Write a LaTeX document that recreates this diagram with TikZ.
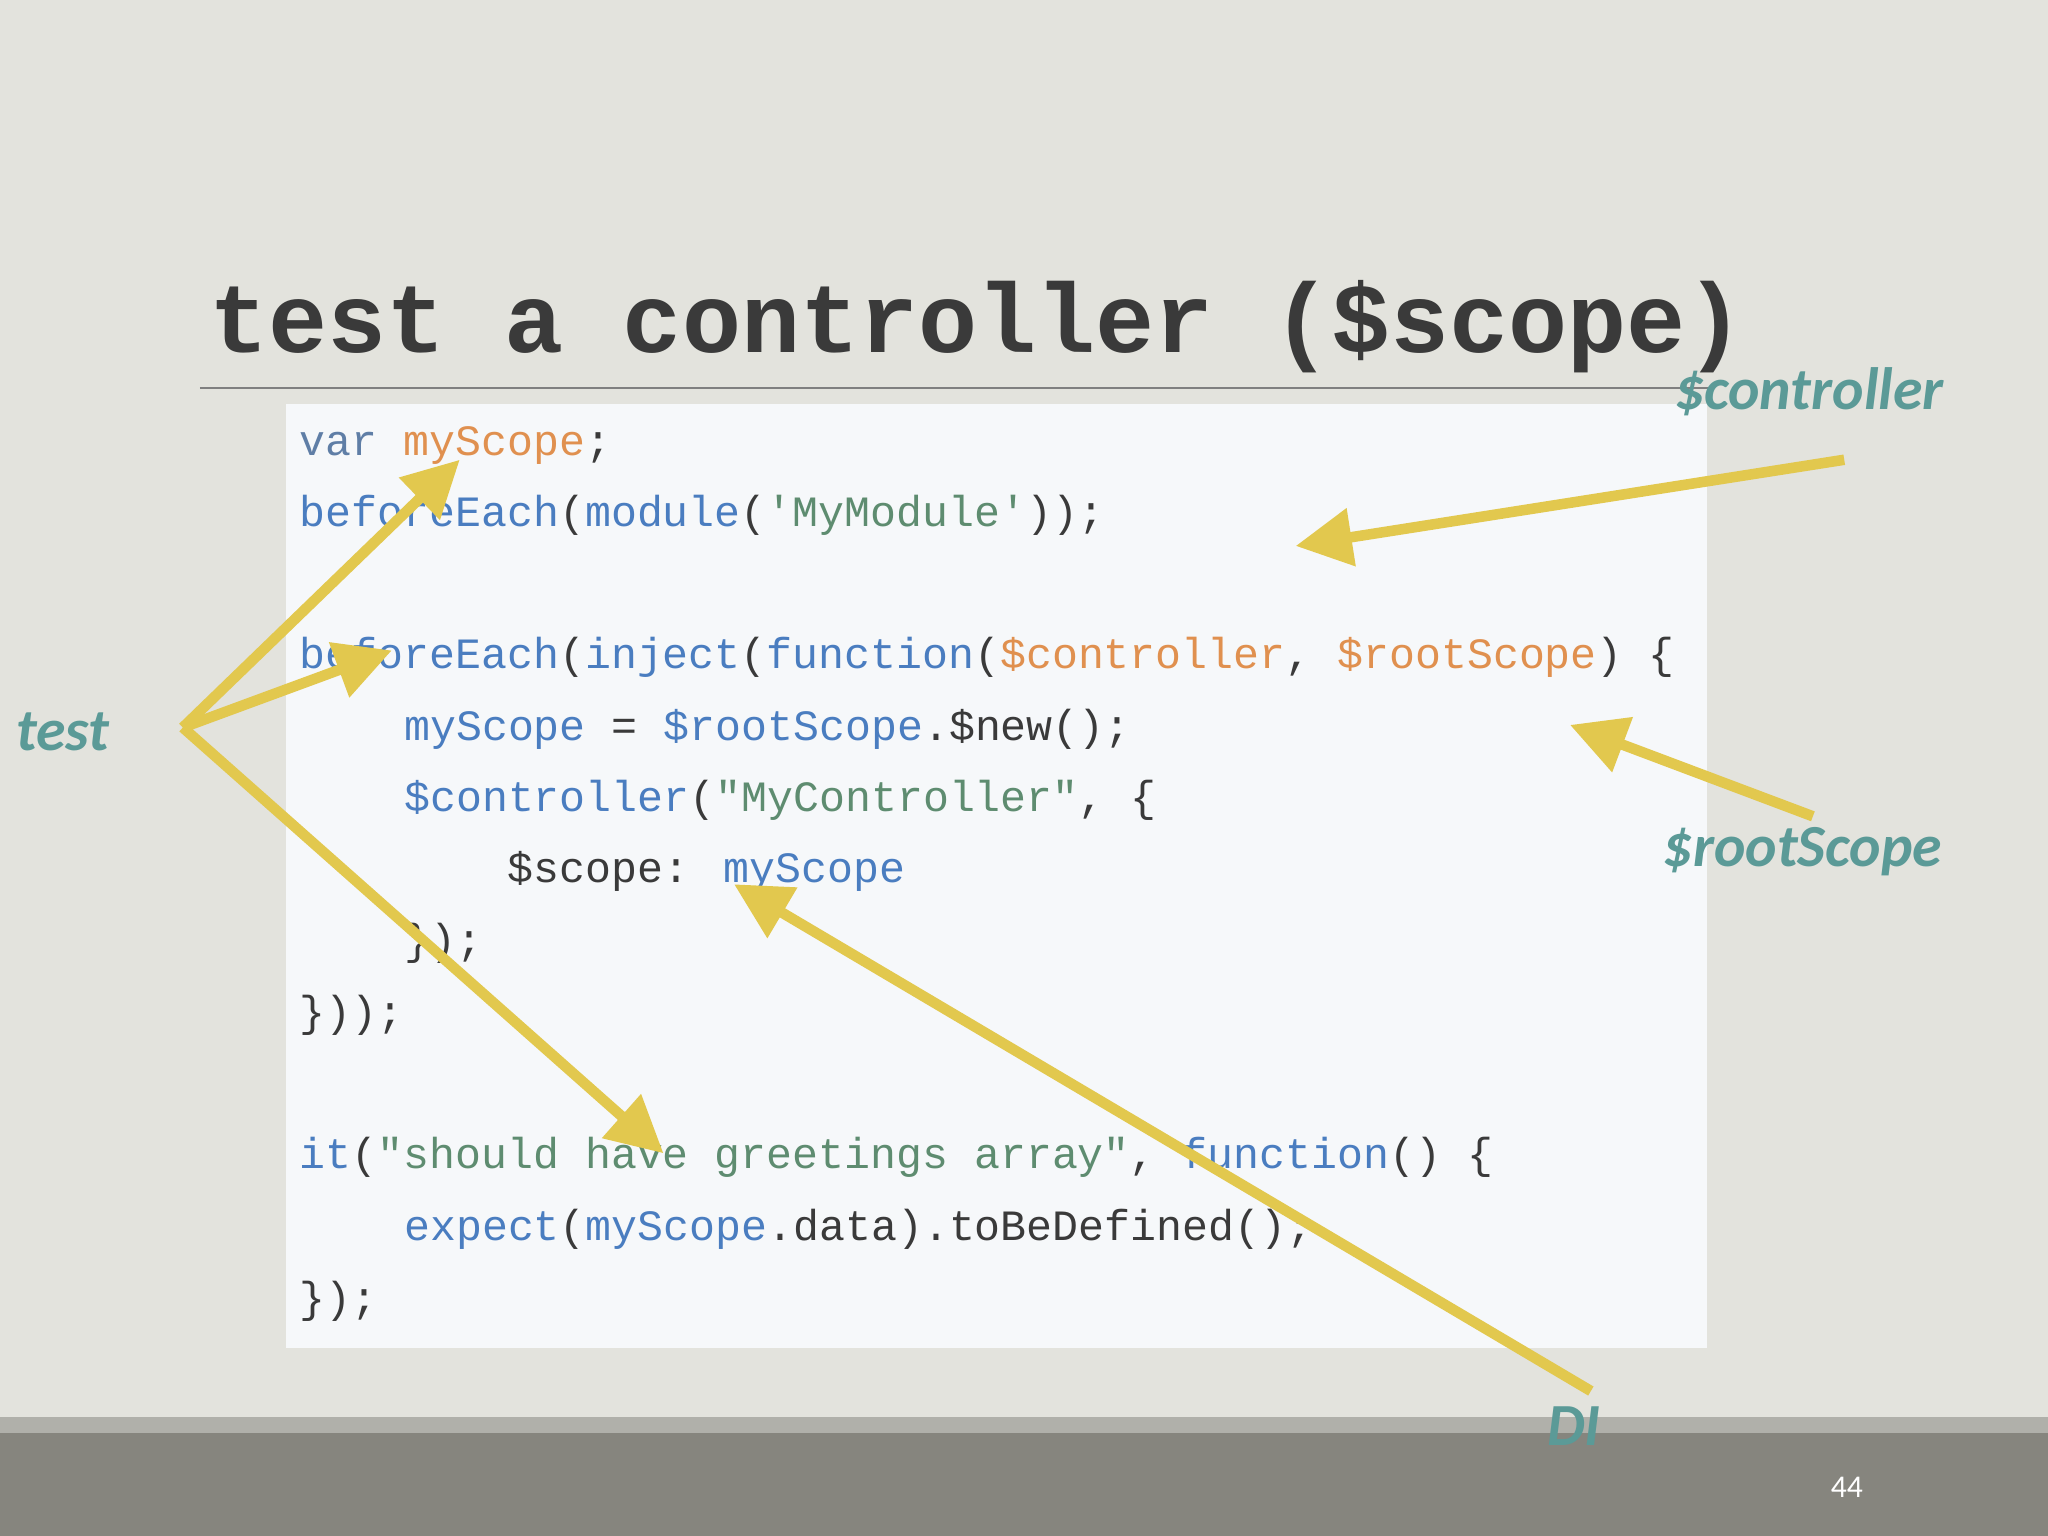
\documentclass[tikz,border=0pt]{standalone}
\usepackage{fontspec}
\setmainfont{Carlito}
\setmonofont{Liberation Mono}
\newfontfamily\titlefont{Liberation Mono}
\usetikzlibrary{arrows.meta}
\definecolor{bg}{HTML}{E3E3DD}
\definecolor{codebg}{HTML}{F6F8FA}
\definecolor{cb}{HTML}{4A7DC0}
\definecolor{co}{HTML}{E0904F}
\definecolor{cg}{HTML}{5E8C70}
\definecolor{cd}{HTML}{3A3A3A}
\definecolor{teal}{HTML}{5B9A97}
\definecolor{yel}{HTML}{E2C84E}
\tikzset{
 codeline/.style={anchor=base west,inner sep=0,font=\ttfamily\fontsize{12.3}{14}\selectfont,text=cd},
 lbl/.style={font=\bfseries\itshape\fontsize{17}{20}\selectfont,text=teal,inner sep=0},
 yarrow/.style={draw=yel,line width=3pt,-{Triangle[length=16pt,width=16pt]}}
}
\begin{document}
\begin{tikzpicture}[x=0.01306cm,y=-0.01306cm]
\fill[bg] (0,0) rectangle (1568,1176);
\useasboundingbox (0,0) rectangle (1568,1176);
\fill[fill={rgb,255:red,176;green,176;blue,170}] (0,1085) rectangle (1568,1097);
\fill[fill={rgb,255:red,134;green,133;blue,126}] (0,1097) rectangle (1568,1176);
\node[text=white,font=\fontsize{9}{10}\selectfont] (pg) at (1414,1139) {44};
\node[anchor=base west,inner sep=0,text=cd,font=\titlefont\bfseries\fontsize{28}{30}\selectfont] (title) at (160,270) {test a controller (\$scope)};
\draw[gray,line width=0.6pt] (153,297) -- (1310,297);
\fill[codebg] (219,309) rectangle (1307,1032);
\def\cx#1{229+19.8*#1}
\node[codeline] (l1) at (229,349) {\textcolor{cb!60!gray}{var} \textcolor{co}{myScope};};
\node[codeline] (l2) at (229,403) {\textcolor{cb}{beforeEach}(\textcolor{cb}{module}(\textcolor{cg}{'MyModule'}));};
\node[codeline] (l4) at (229,512) {\textcolor{cb}{beforeEach}(\textcolor{cb}{inject}(\textcolor{cb}{function}(\textcolor{co}{\$controller}, \textcolor{co}{\$rootScope}) \{};
\node[codeline] (l5) at (309,567) {\textcolor{cb}{myScope} = \textcolor{cb}{\$rootScope}.\$new();};
\node[codeline] (l6) at (309,621) {\textcolor{cb}{\$controller}(\textcolor{cg}{"MyController"}, \{};
\node[codeline] (l7) at (388,676) {\$scope: \textcolor{cb}{myScope}};
\node[codeline] (l8) at (309,731) {\});};
\node[codeline] (l9) at (229,786) {\}));};
\node[codeline] (l11) at (229,895) {\textcolor{cb}{it}(\textcolor{cg}{"should have greetings array"}, \textcolor{cb}{function}() \{};
\node[codeline] (l12) at (309,950) {\textcolor{cb}{expect}(\textcolor{cb}{myScope}.data).toBeDefined();};
\node[codeline] (l13) at (229,1005) {\});};
\node[lbl] (ctl) at (1385,300) {\$controller};
\node[lbl] (tst) at (48,560) {test};
\node[lbl] (rs) at (1380,652) {\$rootScope};
\node[lbl] (di) at (1205,1092) {DI};
\coordinate (t0) at (140,557);
\coordinate (a1) at (352,352);
\coordinate (a2) at (300,498);
\coordinate (a3) at (508,883);
\coordinate (c0) at (1412,352);
\coordinate (c1) at (992,418);
\coordinate (r0) at (1388,625);
\coordinate (r1) at (1202,555);
\coordinate (d0) at (1218,1065);
\coordinate (d1) at (562,677);
\draw[yarrow] (t0) -- (a1);
\draw[yarrow] (t0) -- (a2);
\draw[yarrow] (t0) -- (a3);
\draw[yarrow] (c0) -- (c1);
\draw[yarrow] (r0) -- (r1);
\draw[yarrow] (d0) -- (d1);
\end{tikzpicture}
\end{document}
